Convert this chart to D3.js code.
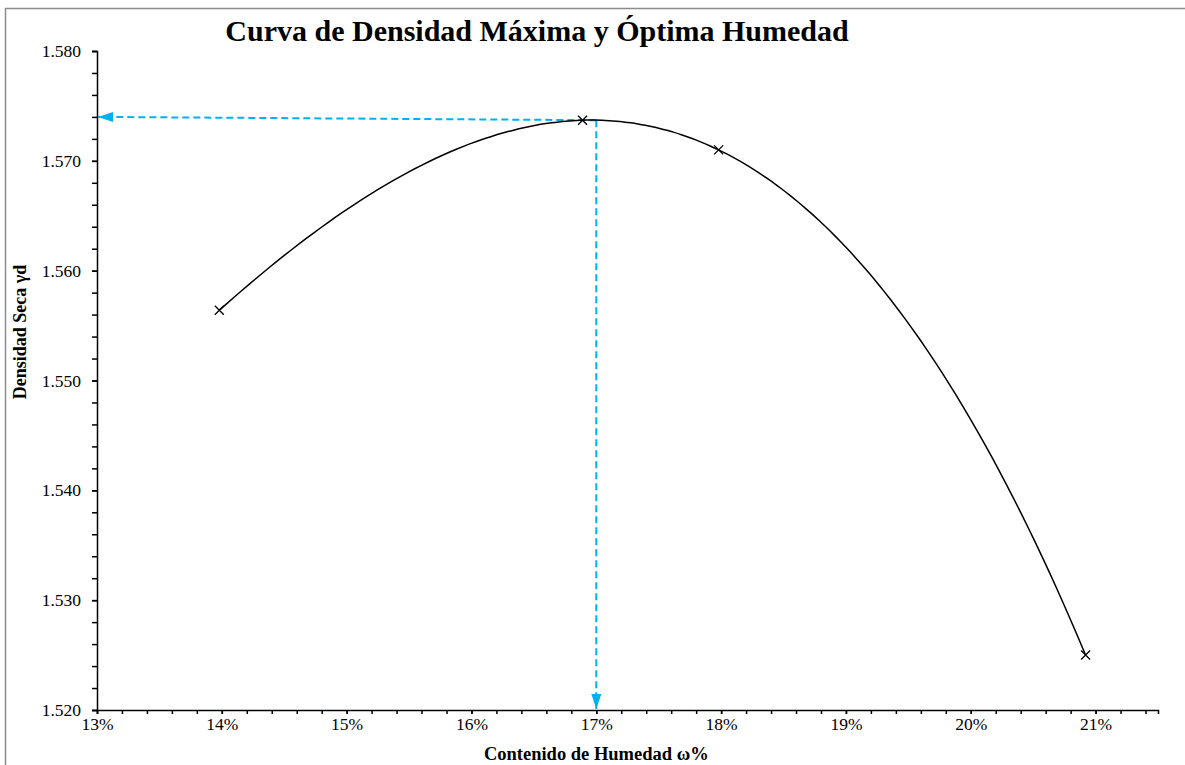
<!DOCTYPE html>
<html>
<head>
<meta charset="utf-8">
<script src="https://cdn.jsdelivr.net/npm/d3@7"></script>
<style>
  body { margin: 0; background: #fff; }
  svg { display: block; }
  svg text { font-family: "Liberation Serif", "Times New Roman", serif; }
</style>
</head>
<body>
<div id="chart"></div>
<script>
// humedad (%) y densidad seca
const moisture = [13.98, 16.89, 17.98, 20.92];
const density = [1.5564, 1.5737, 1.5710, 1.5250];
const optimum = { moisture: 17.0, density: 1.5737, axisDensity: 1.574 };
const xTicks = [13, 14, 15, 16, 17, 18, 19, 20, 21];
const yTicks = [1.520, 1.530, 1.540, 1.550, 1.560, 1.570, 1.580];
const title = "Curva de Densidad Máxima y Óptima Humedad";
const xLabel = "Contenido de Humedad ω%";
const yLabel = "Densidad Seca γd";

const width = 1185, height = 765;
const margin = { left: 97, right: 27, top: 51, bottom: 55 };

const svg = d3.select("#chart").append("svg")
    .attr("width", width)
    .attr("height", height);

// marco gris del area del grafico
svg.append("rect")
    .attr("x", 5.5).attr("y", 8.5)
    .attr("width", width + 10).attr("height", height + 10)
    .attr("fill", "none")
    .attr("stroke", "#8c8c8c")
    .attr("stroke-width", 1.5);

const x = d3.scaleLinear().domain([13, 21.5]).range([margin.left, width - margin.right]);
const y = d3.scaleLinear().domain([1.520, 1.580]).range([height - margin.bottom, margin.top]);

const defs = svg.append("defs");
defs.append("marker")
    .attr("id", "arrow")
    .attr("viewBox", "0 0 15 10")
    .attr("refX", 15).attr("refY", 5)
    .attr("markerWidth", 7.5).attr("markerHeight", 5)
    .attr("markerUnits", "strokeWidth")
    .attr("orient", "auto")
    .append("path")
    .attr("d", "M0,0L15,5L0,10Z")
    .attr("fill", "#00b0f0");

const tickFont = g => g.selectAll("text")
    .style("font-size", "17.5px")
    .style("font-family", "'Liberation Serif', serif")
    .attr("fill", "#000");

// ejes
const xAxis = svg.append("g")
    .attr("transform", `translate(0,${y(1.520)})`);
xAxis.append("g")
    .call(d3.axisBottom(x).tickValues(d3.range(13, 21.5001, 0.2)).tickSize(4).tickFormat(""))
    .call(g => g.select(".domain").remove());
xAxis.append("g")
    .call(d3.axisBottom(x).tickValues(xTicks).tickSize(4).tickPadding(4).tickFormat(d => d + "%"))
    .call(tickFont);
xAxis.selectAll("line, path").attr("stroke", "#000").attr("stroke-width", 1.5);

const yAxis = svg.append("g")
    .attr("transform", `translate(${x(13)},0)`);
yAxis.append("g")
    .call(d3.axisLeft(y).tickValues(d3.range(1.520, 1.5801, 0.002)).tickSize(5).tickFormat(""))
    .call(g => g.select(".domain").remove());
yAxis.append("g")
    .call(d3.axisLeft(y).tickValues(yTicks).tickSize(5).tickPadding(11).tickFormat(d3.format(".3f")))
    .call(tickFont);
yAxis.selectAll("line, path").attr("stroke", "#000").attr("stroke-width", 1.5);

// lineas de lectura del optimo
svg.append("line")
    .attr("x1", x(optimum.moisture)).attr("y1", y(optimum.density))
    .attr("x2", x(13) + 1).attr("y2", y(optimum.axisDensity))
    .attr("stroke", "#00b0f0").attr("stroke-width", 2)
    .attr("stroke-dasharray", "7,4")
    .attr("marker-end", "url(#arrow)");
svg.append("line")
    .attr("x1", x(optimum.moisture)).attr("y1", y(optimum.density))
    .attr("x2", x(optimum.moisture)).attr("y2", y(1.520) - 1)
    .attr("stroke", "#00b0f0").attr("stroke-width", 2)
    .attr("stroke-dasharray", "7,4")
    .attr("marker-end", "url(#arrow)");

// linea de tendencia polinomica (grado 3) que pasa por los puntos
const pts = moisture.map((m, i) => [m, density[i]]);
function trend(t) {
    let s = 0;
    for (let i = 0; i < pts.length; i++) {
        let l = 1;
        for (let j = 0; j < pts.length; j++) {
            if (j !== i) l *= (t - pts[j][0]) / (pts[i][0] - pts[j][0]);
        }
        s += pts[i][1] * l;
    }
    return s;
}
const xmin = d3.min(moisture), xmax = d3.max(moisture);
const curvePts = d3.range(0, 121).map(k => {
    const t = xmin + (xmax - xmin) * k / 120;
    return [t, trend(t)];
});
const line = d3.line()
    .x(d => x(d[0]))
    .y(d => y(d[1]))
    .curve(d3.curveBasis);
svg.append("path")
    .datum(curvePts)
    .attr("d", line)
    .attr("fill", "none")
    .attr("stroke", "#000")
    .attr("stroke-width", 1.5);

// marcadores x
svg.append("g")
    .selectAll("path")
    .data(pts)
    .join("path")
    .attr("transform", d => `translate(${x(d[0])},${y(d[1])})`)
    .attr("d", "M-4.5,-4.5L4.5,4.5M-4.5,4.5L4.5,-4.5")
    .attr("stroke", "#000")
    .attr("stroke-width", 1.3);

// textos
svg.append("text")
    .attr("x", 537).attr("y", 41)
    .attr("text-anchor", "middle")
    .style("font-size", "30px").attr("font-weight", "bold")
    .text(title);
svg.append("text")
    .attr("x", x(17)).attr("y", 760)
    .attr("text-anchor", "middle")
    .style("font-size", "18.5px").attr("font-weight", "bold")
    .text(xLabel);
svg.append("text")
    .attr("transform", `translate(26,332) rotate(-90)`)
    .attr("text-anchor", "middle")
    .style("font-size", "18px").attr("font-weight", "bold")
    .text(yLabel);
</script>
</body>
</html>
